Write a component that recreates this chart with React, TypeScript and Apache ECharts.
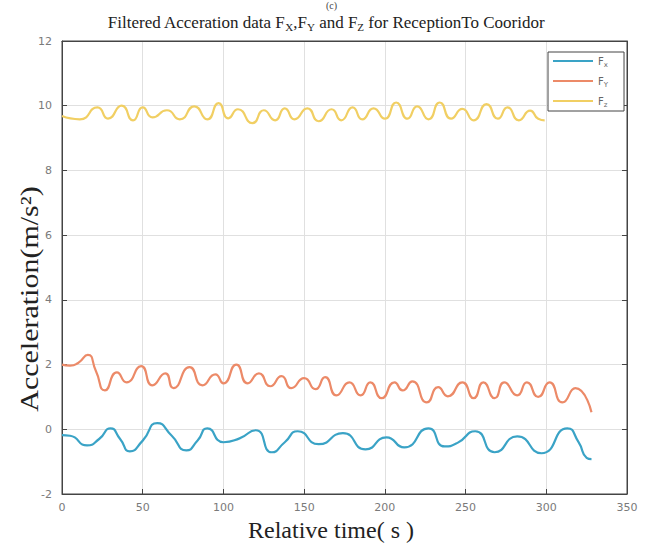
import React, { useEffect, useRef } from "react";
import * as echarts from "echarts";

// ---- Data ----
const xTicks = [0, 50, 100, 150, 200, 250, 300, 350];
const yTicks = [-2, 0, 2, 4, 6, 8, 10, 12];

const fxTime = [0, 5, 15.5, 23, 30, 36, 42, 50, 59, 68, 77, 84, 90, 100, 110, 120, 130, 138, 146, 159, 174, 188, 201, 212, 227, 237, 245, 256, 268, 282, 297, 313, 320, 325, 328];
const fxValues = [-0.18, -0.2, -0.5, -0.3, 0.03, -0.3, -0.68, -0.35, 0.19, -0.2, -0.65, -0.35, 0.03, -0.4, -0.28, -0.03, -0.71, -0.4, -0.06, -0.46, -0.12, -0.62, -0.25, -0.56, 0.03, -0.53, -0.42, -0.06, -0.71, -0.22, -0.74, 0.03, -0.4, -0.88, -0.92];

const fyTime = [0, 5, 10, 16, 21, 26.6, 34, 40, 49, 56, 64, 69, 79, 87, 95, 100, 108, 115, 122, 129, 136, 142, 150, 157, 163, 170, 178, 185, 191, 198, 206, 211, 217, 226, 233, 239, 248, 255, 261, 268, 274, 282, 288, 295, 302, 310, 318, 328];
const fyValues = [2.0, 1.97, 2.05, 2.3, 1.8, 1.2, 1.76, 1.45, 1.95, 1.36, 1.73, 1.27, 1.92, 1.36, 1.7, 1.42, 2.0, 1.42, 1.73, 1.33, 1.64, 1.27, 1.58, 1.24, 1.61, 1.05, 1.45, 1.05, 1.45, 0.96, 1.45, 1.2, 1.48, 0.83, 1.3, 1.02, 1.45, 0.96, 1.45, 0.96, 1.45, 1.05, 1.45, 1.0, 1.45, 0.83, 1.27, 0.53];

const fzTime = [0, 11, 22, 28.5, 37, 44, 50, 56, 65, 73, 82, 90, 97, 103, 109, 118, 125, 132, 138, 144, 152, 159, 167, 173, 180, 186, 193, 200, 207, 214, 220, 227, 234, 241, 248, 255, 263, 270, 276, 283, 290, 295, 299];
const fzValues = [9.68, 9.58, 9.95, 9.6, 10.0, 9.55, 9.95, 9.64, 9.86, 9.58, 9.98, 9.58, 10.08, 9.61, 9.89, 9.46, 9.86, 9.55, 9.92, 9.58, 9.92, 9.52, 9.89, 9.55, 9.95, 9.58, 9.92, 9.6, 10.1, 9.6, 9.98, 9.58, 10.1, 9.6, 9.9, 9.55, 10.05, 9.6, 9.95, 9.55, 9.85, 9.6, 9.55];

const seriesNames = ["Fx", "Fy", "Fz"];
const seriesSubs = ["x", "Y", "z"];
const seriesColors = ["#3aa3c6", "#ec8a68", "#f1cf63"];

const zip = (t: number[], v: number[]) => t.map((x, i) => [x, v[i]]);

export default function App() {
  const ref = useRef<HTMLDivElement>(null);
  useEffect(() => {
    if (!ref.current) return;
    const chart = echarts.init(ref.current, null, { renderer: "svg" });
    const serif = "Liberation Serif, Times New Roman, serif";
    const tickLabel = { color: "#7a7a7a", fontSize: 11, fontFamily: "DejaVu Sans, sans-serif" };
    const dataSets = [zip(fxTime, fxValues), zip(fyTime, fyValues), zip(fzTime, fzValues)];
    chart.setOption({
      animation: false,
      backgroundColor: "#ffffff",
      title: {
        left: "center",
        top: 7,
        text: "{n|Filtered Acceration data F}{s|X}{n|,F}{s|Y}{n| and F}{s|Z}{n| for ReceptionTo Cooridor}",
        textStyle: {
          fontWeight: "normal",
          rich: {
            n: { fontFamily: serif, fontSize: 17, color: "#222", fontWeight: "normal" },
            s: { fontFamily: serif, fontSize: 11, color: "#222", fontWeight: "normal", padding: [9, 0, 0, 0] },
          },
        },
      },
      graphic: [
        { type: "text", left: 326, top: 0, style: { text: "(c)", font: "10px " + serif, fill: "#444" } },
        {
          type: "text",
          x: 29,
          y: 299,
          rotation: Math.PI / 2,
          scaleX: 1.2,
          style: {
            text: "Acceleration(m/s²)",
            font: "25px " + serif,
            fill: "#222",
            align: "center",
            verticalAlign: "middle",
          },
        },
        {
          type: "text",
          x: 331,
          y: 530,
          style: {
            text: "Relative time( s )",
            font: "24px " + serif,
            fill: "#222",
            align: "center",
            verticalAlign: "middle",
          },
        },
      ],
      legend: {
        orient: "vertical",
        left: 548,
        top: 52,
        padding: [4, 16, 3, 5],
        icon: "rect",
        itemWidth: 40,
        itemHeight: 2,
        itemGap: 8,
        backgroundColor: "#ffffff",
        borderColor: "#444",
        borderWidth: 1,
        data: seriesNames,
        formatter: (name: string) => {
          const i = seriesNames.indexOf(name);
          return "{a|F}{b|" + seriesSubs[i] + "}";
        },
        textStyle: {
          rich: {
            a: { fontSize: 10, color: "#666", fontFamily: "DejaVu Sans, sans-serif", lineHeight: 14 },
            b: { fontSize: 7, color: "#666", fontFamily: "DejaVu Sans, sans-serif", padding: [7, 0, 0, 0] },
          },
        },
      },
      grid: {
        left: 62,
        right: 25,
        top: 41,
        bottom: 54,
        show: true,
        borderColor: "#444",
        borderWidth: 1,
      },
      xAxis: [
        {
          type: "value",
          min: 0,
          max: 350,
          interval: 50,
          axisLine: { show: true, onZero: false, lineStyle: { color: "#444" } },
          axisTick: { show: true, inside: true, length: 5, lineStyle: { color: "#444" } },
          axisLabel: { ...tickLabel, margin: 8, formatter: (v: number) => (xTicks.includes(v) ? String(v) : "") },
          splitLine: { show: true, lineStyle: { color: "#e0e0e0" } },
        },
        {
          type: "value",
          position: "top",
          min: 0,
          max: 350,
          interval: 50,
          axisLine: { show: true, onZero: false, lineStyle: { color: "#444" } },
          axisTick: { show: false },
          axisLabel: { show: false },
          splitLine: { show: false },
        },
      ],
      yAxis: [
        {
          type: "value",
          min: -2,
          max: 12,
          interval: 2,
          axisLine: { show: true, onZero: false, lineStyle: { color: "#444" } },
          axisTick: { show: true, inside: true, length: 5, lineStyle: { color: "#444" } },
          axisLabel: { ...tickLabel, margin: 10, formatter: (v: number) => (yTicks.includes(v) ? String(v) : "") },
          splitLine: { show: true, lineStyle: { color: "#e0e0e0" } },
        },
        {
          type: "value",
          position: "right",
          min: -2,
          max: 12,
          interval: 2,
          axisLine: { show: true, onZero: false, lineStyle: { color: "#444" } },
          axisTick: { show: true, inside: true, length: 5, lineStyle: { color: "#444" } },
          axisLabel: { show: false },
          splitLine: { show: false },
        },
      ],
      series: seriesNames.map((name, i) => ({
        name,
        type: "line",
        data: dataSets[i],
        smooth: 0.6,
        symbol: "none",
        lineStyle: { color: seriesColors[i], width: 2.2 },
        itemStyle: { color: seriesColors[i] },
      })),
    });
    return () => chart.dispose();
  }, []);
  return (
    <div
      ref={ref}
      style={{ position: "fixed", left: 0, top: 0, width: 652, height: 548, background: "#fff" }}
    />
  );
}
